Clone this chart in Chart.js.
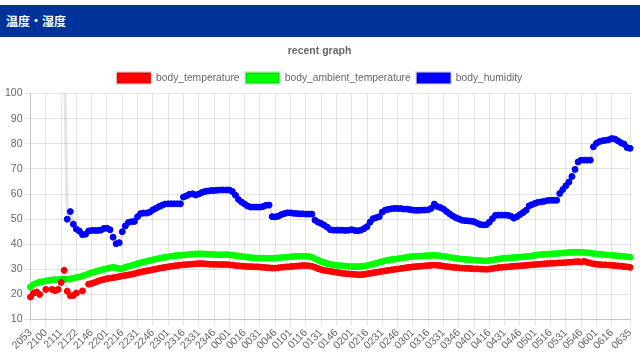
<!DOCTYPE html>
<html>
<head>
<meta charset="utf-8">
<script src="https://cdn.jsdelivr.net/npm/chart.js@4/dist/chart.umd.min.js"></script>
<style>
html,body{margin:0;padding:0;background:#fff;width:640px;height:360px;overflow:hidden;}
#hdr{position:absolute;left:0;top:5px;width:640px;height:32px;background:#003399;color:#fff;
 font:bold 12px "Noto Sans CJK JP",sans-serif;line-height:32px;padding-left:6px;box-sizing:border-box;}
#wrap{position:absolute;left:0;top:38px;width:640px;height:322px;}
</style>
</head>
<body>
<div id="hdr">温度・湿度</div>
<div id="wrap"><canvas id="c" width="640" height="322"></canvas></div>
<script>
const categories = ("2053 2054 2056 2057 2059 2100 2102 2104 2107 2109 2111 2113 2115 2118 2120 2122 2127 2131 2136 2141 " +
 "2146 2149 2152 2155 2158 2201 2204 2207 2210 2213 2216 2219 2222 2225 2228 2231 2234 2237 2240 2243 " +
 "2246 2249 2252 2255 2258 2301 2304 2307 2310 2313 2316 2319 2322 2325 2328 2331 2334 2337 2340 2343 " +
 "2346 2349 2352 2355 2358 0001 0004 0007 0010 0013 0016 0019 0022 0025 0028 0031 0034 0037 0040 0043 " +
 "0046 0049 0052 0055 0058 0101 0104 0107 0110 0113 0116 0119 0122 0125 0128 0131 0134 0137 0140 0143 " +
 "0146 0149 0152 0155 0158 0201 0204 0207 0210 0213 0216 0219 0222 0225 0228 0231 0234 0237 0240 0243 " +
 "0246 0249 0252 0255 0258 0301 0304 0307 0310 0313 0316 0319 0322 0325 0328 0331 0334 0337 0340 0343 " +
 "0346 0349 0352 0355 0358 0401 0404 0407 0410 0413 0416 0419 0422 0425 0428 0431 0434 0437 0440 0443 " +
 "0446 0449 0452 0455 0458 0501 0504 0507 0510 0513 0516 0519 0522 0525 0528 0531 0534 0537 0540 0543 " +
 "0546 0549 0552 0555 0558 0601 0604 0607 0610 0613 0616 0619 0622 0625 0628 0631 0635").split(" ");

const tickLabels = ["2053","2100","2111","2122","2146","2201","2216","2231","2246","2301","2316","2331","2346",
 "0001","0016","0031","0046","0101","0116","0131","0146","0201","0216","0231","0246","0301","0316","0331",
 "0346","0401","0416","0431","0446","0501","0516","0531","0546","0601","0616","0635"];

const bodyTemperature = [
 19,20.5,21,20,null,22,null,22,21.5,22,
 24.8,29.6,21.3,19.5,19.6,20.6,null,21.4,null,24.1,
 24.4,24.8,25.3,25.7,26,26.3,26.5,26.7,26.9,27.1,
 27.4,27.6,27.8,28,28.3,28.6,28.9,29.2,29.4,29.6,
 29.9,30.1,30.4,30.6,30.8,31,31.2,31.4,31.5,31.7,
 31.8,31.9,32,32.1,32.2,32.3,32.3,32.2,32.1,32,
 32,32,31.9,31.9,31.9,31.8,31.7,31.5,31.4,31.3,
 31.2,31.1,31.1,31,31,30.9,30.8,30.7,30.6,30.5,
 30.5,30.6,30.8,30.9,31,31.1,31.2,31.3,31.4,31.5,
 31.5,31.4,31.2,30.8,30.3,29.9,29.6,29.4,29.2,29,
 28.8,28.6,28.4,28.3,28.2,28.1,28,27.9,27.9,28,
 28.2,28.4,28.6,28.8,29,29.2,29.4,29.6,29.8,30,
 30.1,30.3,30.5,30.7,30.8,31,31.1,31.2,31.3,31.4,
 31.5,31.6,31.7,31.6,31.5,31.3,31.1,31,30.8,30.7,
 30.6,30.5,30.4,30.4,30.3,30.2,30.2,30.1,30.1,30,
 30.1,30.3,30.5,30.7,30.8,30.9,31,31.1,31.2,31.3,
 31.4,31.5,31.6,31.7,31.8,31.9,32,32.1,32.2,32.3,
 32.4,32.4,32.5,32.6,32.6,32.7,32.8,32.9,33,33.1,
 32.9,33.2,32.8,32.5,32.2,32,31.9,31.8,31.8,31.7,
 31.6,31.5,31.4,31.3,31.1,31,30.8
];

const bodyAmbientTemperature = [
 23,24,24.5,25,25.2,25.4,25.6,25.8,25.9,25.9,
 26,26,26.1,26.2,26.5,26.8,27,27.4,27.8,28.3,
 28.6,29,29.4,29.7,30,30.3,30.6,30.8,30.6,30.2,
 30.3,30.8,31.2,31.5,31.9,32.3,32.6,32.9,33.2,33.5,
 33.8,34.1,34.3,34.6,34.8,35,35.2,35.4,35.5,35.6,
 35.7,35.8,36,36,36.1,36.2,36.2,36.1,36,36,
 35.9,35.8,35.8,35.8,35.9,35.8,35.6,35.5,35.3,35.1,
 35,34.8,34.7,34.6,34.5,34.5,34.4,34.4,34.4,34.4,
 34.5,34.6,34.7,34.8,34.9,35,35.1,35.2,35.2,35.2,
 35.2,35.1,34.8,34.2,33.6,33.1,32.7,32.3,32,31.8,
 31.6,31.5,31.4,31.3,31.2,31.1,31.1,31.1,31.2,31.3,
 31.5,31.8,32.1,32.4,32.8,33.1,33.4,33.7,33.9,34.1,
 34.2,34.4,34.6,34.8,35,35.1,35.2,35.3,35.3,35.4,
 35.5,35.5,35.6,35.5,35.4,35.2,35,34.8,34.6,34.4,
 34.2,34.1,34,33.9,33.8,33.7,33.6,33.5,33.4,33.4,
 33.5,33.7,33.9,34.1,34.3,34.4,34.5,34.6,34.7,34.8,
 34.9,35,35.1,35.2,35.4,35.6,35.8,35.9,36,36.1,
 36.1,36.2,36.3,36.4,36.5,36.6,36.7,36.8,36.8,36.8,
 36.8,36.7,36.6,36.5,36.3,36.1,36,35.9,35.8,35.7,
 35.6,35.5,35.4,35.3,35.2,35,34.9
];

const bodyHumidity = [
 null,null,null,null,null,null,null,null,null,null,
 null,120,50,53,48,46,45.2,43.8,44,45.3,
 45.5,45.5,45.5,45.6,46.3,46.4,45.8,42.8,40.2,40.6,
 45,47.3,48.7,49,49.1,51,52.2,52.4,52.4,52.8,
 53.7,54.3,55,55.5,56,56.1,56.1,56.1,56.1,56.1,
 58.8,59.3,59.9,60.1,59.6,60,60.6,61,61.2,61.4,
 61.4,61.5,61.6,61.6,61.6,61.6,61,59.5,57.8,56.8,
 56,55.2,54.8,54.8,54.8,54.8,55,55.5,55.6,51,
 50.9,51.2,51.8,52.2,52.5,52.5,52.3,52.2,52.1,52.1,
 52,52,52,49.6,48.8,48.3,47.6,46.8,45.8,45.6,
 45.6,45.6,45.6,45.5,45.6,45.8,45.5,45.4,45.6,46.2,
 47,48.8,50.2,50.6,51,52.8,53.6,53.9,54.1,54.3,
 54.2,54.2,54,54,53.8,53.6,53.5,53.5,53.6,53.6,
 53.7,54.3,56,55,54.6,54,53,52.1,51.3,50.6,
 50.1,49.6,49.4,49.3,49.2,49,48.4,47.9,47.7,47.8,
 48.8,50.2,51.5,51.6,51.6,51.6,51.5,51.2,50.4,51,
 51.8,52.6,53.5,55.3,55.8,56.3,56.7,56.9,57.1,57.4,
 57.5,57.5,57.5,60.2,61.8,63.3,64.8,67,69.8,72.8,
 73.5,73.5,73.5,73.5,78.8,80.2,80.9,81.2,81.4,81.6,
 82.1,81.9,81.2,80.4,79.9,78.5,78.2
];

const seriesNames = ["body_temperature","body_ambient_temperature","body_humidity"];
const seriesColors = ["#ff0000","#00ff00","#0000ff"];
const seriesData = [bodyTemperature, bodyAmbientTemperature, bodyHumidity];

const FONT = "'Helvetica Neue', Helvetica, Arial, sans-serif";
const FS = 10.5;

new Chart(document.getElementById("c"), {
  type: "line",
  data: {
    labels: categories,
    datasets: seriesData.map((d, i) => ({
      label: seriesNames[i],
      data: d,
      backgroundColor: seriesColors[i],
      borderColor: "rgba(0,0,0,0.1)",
      borderWidth: 3,
      pointBackgroundColor: seriesColors[i],
      pointBorderColor: seriesColors[i],
      pointBorderWidth: 1,
      pointRadius: 3,
      fill: false,
      tension: 0,
      spanGaps: false
    }))
  },
  options: {
    responsive: false,
    animation: false,
    events: [],
    layout: { padding: { left: 4, right: 5, top: 0, bottom: 7 } },
    font: { family: FONT, size: FS },
    color: "#666",
    plugins: {
      title: { display: true, text: "recent graph", color: "#666",
        font: { family: FONT, size: FS, weight: "bold" }, padding: { top: 7, bottom: 9 } },
      legend: { labels: { boxWidth: 34, boxHeight: 11, padding: 6, color: "#666",
        font: { family: FONT, size: 10.3 } } },
      tooltip: { enabled: false }
    },
    scales: {
      x: {
        grid: { color: "rgba(0,0,0,0.1)", tickLength: 6 },
        border: { color: "rgba(0,0,0,0.15)" },
        ticks: {
          autoSkip: false, maxRotation: 45, minRotation: 45, color: "#666", padding: 1,
          font: { family: FONT, size: FS },
          callback: function (v) {
            const l = this.getLabelForValue(v);
            return tickLabels.includes(l) ? l : null;
          }
        }
      },
      y: {
        min: 10, max: 100,
        grid: { color: "rgba(0,0,0,0.1)", tickLength: 7 },
        border: { color: "rgba(0,0,0,0.15)" },
        ticks: { stepSize: 10, color: "#666", padding: 1, font: { family: FONT, size: FS } }
      }
    }
  }
});
</script>
</body>
</html>
